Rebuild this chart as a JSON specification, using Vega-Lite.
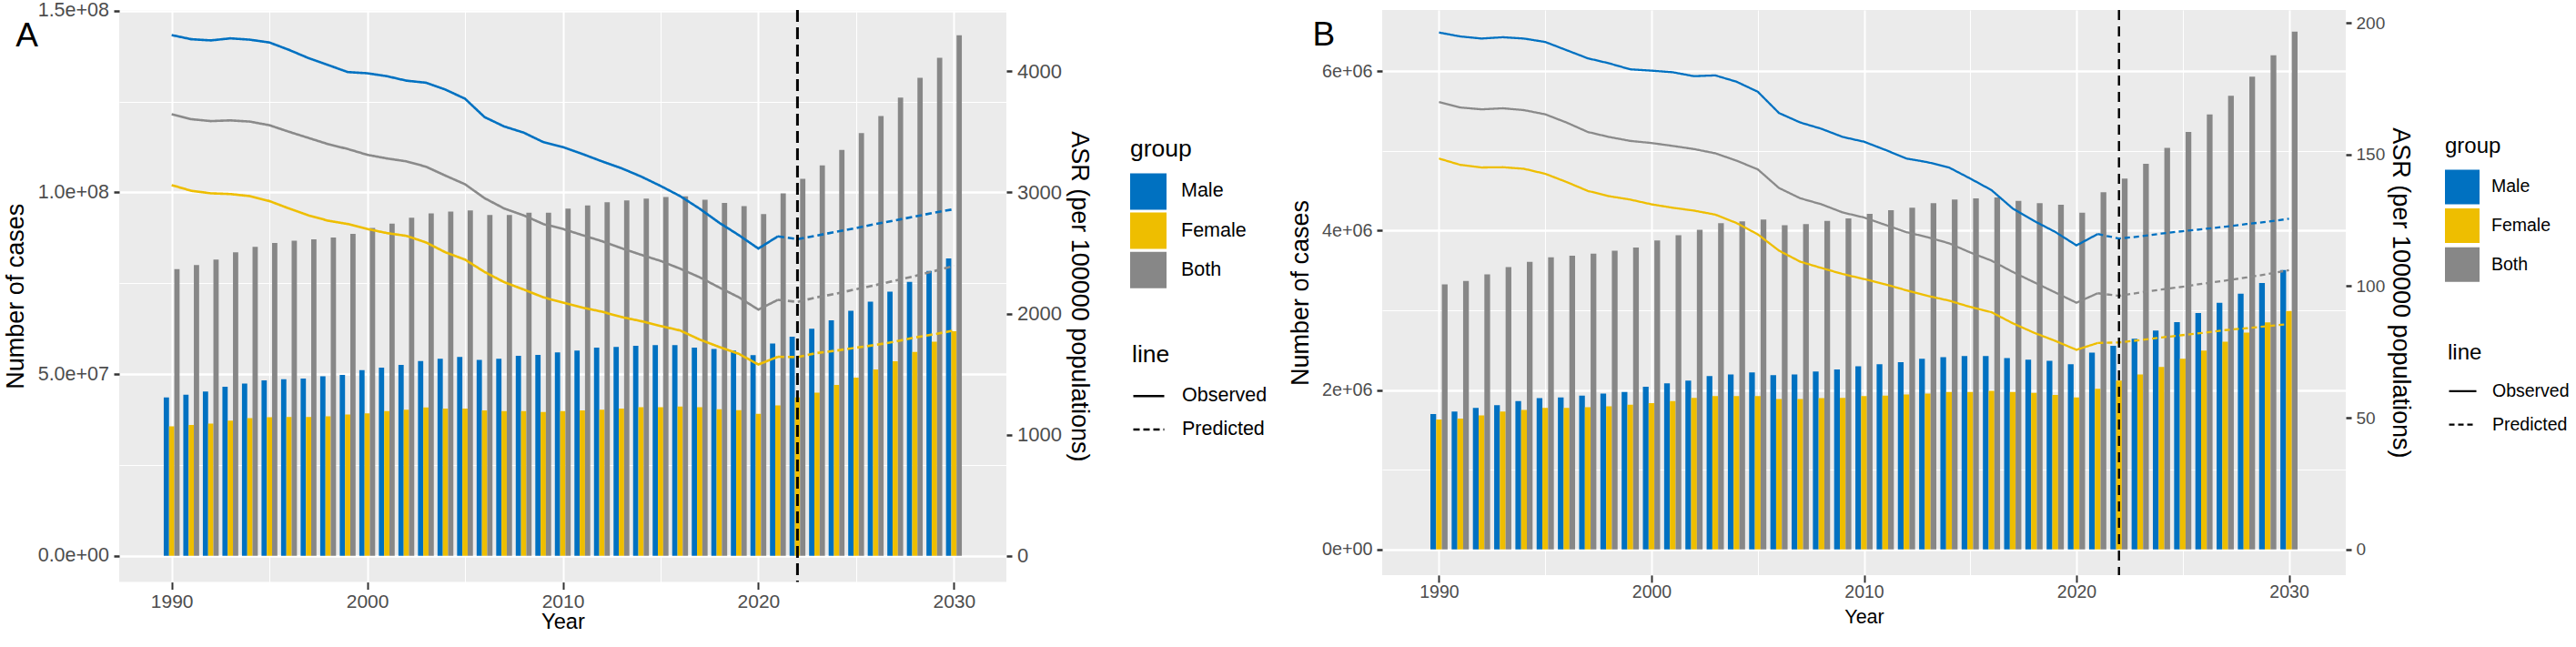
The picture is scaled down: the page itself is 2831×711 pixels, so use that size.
{
"$schema":"https://vega.github.io/schema/vega-lite/v6.json",
"background":"white",
"padding":{"left":3,"top":0,"right":0,"bottom":0},
"datasets":{
"barsA":[
{"year":1990,"group":"Male","cases":4.36e7},{"year":1990,"group":"Female","cases":3.56e7},{"year":1990,"group":"Both","cases":7.89e7},
{"year":1991,"group":"Male","cases":4.43e7},{"year":1991,"group":"Female","cases":3.60e7},{"year":1991,"group":"Both","cases":8.00e7},
{"year":1992,"group":"Male","cases":4.52e7},{"year":1992,"group":"Female","cases":3.64e7},{"year":1992,"group":"Both","cases":8.15e7},
{"year":1993,"group":"Male","cases":4.65e7},{"year":1993,"group":"Female","cases":3.72e7},{"year":1993,"group":"Both","cases":8.35e7},
{"year":1994,"group":"Male","cases":4.74e7},{"year":1994,"group":"Female","cases":3.79e7},{"year":1994,"group":"Both","cases":8.50e7},
{"year":1995,"group":"Male","cases":4.83e7},{"year":1995,"group":"Female","cases":3.81e7},{"year":1995,"group":"Both","cases":8.61e7},
{"year":1996,"group":"Male","cases":4.86e7},{"year":1996,"group":"Female","cases":3.82e7},{"year":1996,"group":"Both","cases":8.67e7},
{"year":1997,"group":"Male","cases":4.88e7},{"year":1997,"group":"Female","cases":3.82e7},{"year":1997,"group":"Both","cases":8.71e7},
{"year":1998,"group":"Male","cases":4.94e7},{"year":1998,"group":"Female","cases":3.84e7},{"year":1998,"group":"Both","cases":8.76e7},
{"year":1999,"group":"Male","cases":4.98e7},{"year":1999,"group":"Female","cases":3.89e7},{"year":1999,"group":"Both","cases":8.86e7},
{"year":2000,"group":"Male","cases":5.11e7},{"year":2000,"group":"Female","cases":3.92e7},{"year":2000,"group":"Both","cases":9.02e7},
{"year":2001,"group":"Male","cases":5.18e7},{"year":2001,"group":"Female","cases":3.98e7},{"year":2001,"group":"Both","cases":9.14e7},
{"year":2002,"group":"Male","cases":5.25e7},{"year":2002,"group":"Female","cases":4.02e7},{"year":2002,"group":"Both","cases":9.30e7},
{"year":2003,"group":"Male","cases":5.36e7},{"year":2003,"group":"Female","cases":4.08e7},{"year":2003,"group":"Both","cases":9.42e7},
{"year":2004,"group":"Male","cases":5.42e7},{"year":2004,"group":"Female","cases":4.05e7},{"year":2004,"group":"Both","cases":9.47e7},
{"year":2005,"group":"Male","cases":5.47e7},{"year":2005,"group":"Female","cases":4.05e7},{"year":2005,"group":"Both","cases":9.50e7},
{"year":2006,"group":"Male","cases":5.39e7},{"year":2006,"group":"Female","cases":4.00e7},{"year":2006,"group":"Both","cases":9.38e7},
{"year":2007,"group":"Male","cases":5.42e7},{"year":2007,"group":"Female","cases":3.98e7},{"year":2007,"group":"Both","cases":9.38e7},
{"year":2008,"group":"Male","cases":5.50e7},{"year":2008,"group":"Female","cases":3.98e7},{"year":2008,"group":"Both","cases":9.44e7},
{"year":2009,"group":"Male","cases":5.53e7},{"year":2009,"group":"Female","cases":3.96e7},{"year":2009,"group":"Both","cases":9.44e7},
{"year":2010,"group":"Male","cases":5.60e7},{"year":2010,"group":"Female","cases":3.98e7},{"year":2010,"group":"Both","cases":9.55e7},
{"year":2011,"group":"Male","cases":5.65e7},{"year":2011,"group":"Female","cases":4.00e7},{"year":2011,"group":"Both","cases":9.64e7},
{"year":2012,"group":"Male","cases":5.73e7},{"year":2012,"group":"Female","cases":4.02e7},{"year":2012,"group":"Both","cases":9.73e7},
{"year":2013,"group":"Male","cases":5.75e7},{"year":2013,"group":"Female","cases":4.05e7},{"year":2013,"group":"Both","cases":9.78e7},
{"year":2014,"group":"Male","cases":5.78e7},{"year":2014,"group":"Female","cases":4.09e7},{"year":2014,"group":"Both","cases":9.83e7},
{"year":2015,"group":"Male","cases":5.80e7},{"year":2015,"group":"Female","cases":4.09e7},{"year":2015,"group":"Both","cases":9.87e7},
{"year":2016,"group":"Male","cases":5.80e7},{"year":2016,"group":"Female","cases":4.11e7},{"year":2016,"group":"Both","cases":9.89e7},
{"year":2017,"group":"Male","cases":5.73e7},{"year":2017,"group":"Female","cases":4.09e7},{"year":2017,"group":"Both","cases":9.80e7},
{"year":2018,"group":"Male","cases":5.69e7},{"year":2018,"group":"Female","cases":4.03e7},{"year":2018,"group":"Both","cases":9.71e7},
{"year":2019,"group":"Male","cases":5.65e7},{"year":2019,"group":"Female","cases":4.01e7},{"year":2019,"group":"Both","cases":9.62e7},
{"year":2020,"group":"Male","cases":5.52e7},{"year":2020,"group":"Female","cases":3.91e7},{"year":2020,"group":"Both","cases":9.40e7},
{"year":2021,"group":"Male","cases":5.84e7},{"year":2021,"group":"Female","cases":4.14e7},{"year":2021,"group":"Both","cases":9.97e7},
{"year":2022,"group":"Male","cases":6.03e7},{"year":2022,"group":"Female","cases":4.36e7},{"year":2022,"group":"Both","cases":1.037e8},
{"year":2023,"group":"Male","cases":6.25e7},{"year":2023,"group":"Female","cases":4.49e7},{"year":2023,"group":"Both","cases":1.074e8},
{"year":2024,"group":"Male","cases":6.48e7},{"year":2024,"group":"Female","cases":4.70e7},{"year":2024,"group":"Both","cases":1.117e8},
{"year":2025,"group":"Male","cases":6.74e7},{"year":2025,"group":"Female","cases":4.90e7},{"year":2025,"group":"Both","cases":1.163e8},
{"year":2026,"group":"Male","cases":6.99e7},{"year":2026,"group":"Female","cases":5.13e7},{"year":2026,"group":"Both","cases":1.210e8},
{"year":2027,"group":"Male","cases":7.27e7},{"year":2027,"group":"Female","cases":5.35e7},{"year":2027,"group":"Both","cases":1.261e8},
{"year":2028,"group":"Male","cases":7.54e7},{"year":2028,"group":"Female","cases":5.61e7},{"year":2028,"group":"Both","cases":1.315e8},
{"year":2029,"group":"Male","cases":7.84e7},{"year":2029,"group":"Female","cases":5.89e7},{"year":2029,"group":"Both","cases":1.370e8},
{"year":2030,"group":"Male","cases":8.18e7},{"year":2030,"group":"Female","cases":6.18e7},{"year":2030,"group":"Both","cases":1.432e8}
],
"barsB":[
{"year":1990,"group":"Male","cases":1.697e6},{"year":1990,"group":"Female","cases":1.630e6},{"year":1990,"group":"Both","cases":3.327e6},
{"year":1991,"group":"Male","cases":1.728e6},{"year":1991,"group":"Female","cases":1.640e6},{"year":1991,"group":"Both","cases":3.368e6},
{"year":1992,"group":"Male","cases":1.774e6},{"year":1992,"group":"Female","cases":1.681e6},{"year":1992,"group":"Both","cases":3.450e6},
{"year":1993,"group":"Male","cases":1.810e6},{"year":1993,"group":"Female","cases":1.728e6},{"year":1993,"group":"Both","cases":3.542e6},
{"year":1994,"group":"Male","cases":1.861e6},{"year":1994,"group":"Female","cases":1.748e6},{"year":1994,"group":"Both","cases":3.609e6},
{"year":1995,"group":"Male","cases":1.897e6},{"year":1995,"group":"Female","cases":1.774e6},{"year":1995,"group":"Both","cases":3.666e6},
{"year":1996,"group":"Male","cases":1.907e6},{"year":1996,"group":"Female","cases":1.774e6},{"year":1996,"group":"Both","cases":3.686e6},
{"year":1997,"group":"Male","cases":1.928e6},{"year":1997,"group":"Female","cases":1.784e6},{"year":1997,"group":"Both","cases":3.712e6},
{"year":1998,"group":"Male","cases":1.954e6},{"year":1998,"group":"Female","cases":1.794e6},{"year":1998,"group":"Both","cases":3.748e6},
{"year":1999,"group":"Male","cases":1.974e6},{"year":1999,"group":"Female","cases":1.815e6},{"year":1999,"group":"Both","cases":3.789e6},
{"year":2000,"group":"Male","cases":2.041e6},{"year":2000,"group":"Female","cases":1.835e6},{"year":2000,"group":"Both","cases":3.877e6},
{"year":2001,"group":"Male","cases":2.082e6},{"year":2001,"group":"Female","cases":1.861e6},{"year":2001,"group":"Both","cases":3.943e6},
{"year":2002,"group":"Male","cases":2.118e6},{"year":2002,"group":"Female","cases":1.902e6},{"year":2002,"group":"Both","cases":4.010e6},
{"year":2003,"group":"Male","cases":2.175e6},{"year":2003,"group":"Female","cases":1.923e6},{"year":2003,"group":"Both","cases":4.093e6},
{"year":2004,"group":"Male","cases":2.195e6},{"year":2004,"group":"Female","cases":1.923e6},{"year":2004,"group":"Both","cases":4.118e6},
{"year":2005,"group":"Male","cases":2.221e6},{"year":2005,"group":"Female","cases":1.923e6},{"year":2005,"group":"Both","cases":4.139e6},
{"year":2006,"group":"Male","cases":2.185e6},{"year":2006,"group":"Female","cases":1.887e6},{"year":2006,"group":"Both","cases":4.067e6},
{"year":2007,"group":"Male","cases":2.195e6},{"year":2007,"group":"Female","cases":1.887e6},{"year":2007,"group":"Both","cases":4.082e6},
{"year":2008,"group":"Male","cases":2.231e6},{"year":2008,"group":"Female","cases":1.897e6},{"year":2008,"group":"Both","cases":4.123e6},
{"year":2009,"group":"Male","cases":2.257e6},{"year":2009,"group":"Female","cases":1.902e6},{"year":2009,"group":"Both","cases":4.154e6},
{"year":2010,"group":"Male","cases":2.298e6},{"year":2010,"group":"Female","cases":1.923e6},{"year":2010,"group":"Both","cases":4.211e6},
{"year":2011,"group":"Male","cases":2.324e6},{"year":2011,"group":"Female","cases":1.928e6},{"year":2011,"group":"Both","cases":4.257e6},
{"year":2012,"group":"Male","cases":2.350e6},{"year":2012,"group":"Female","cases":1.943e6},{"year":2012,"group":"Both","cases":4.288e6},
{"year":2013,"group":"Male","cases":2.391e6},{"year":2013,"group":"Female","cases":1.954e6},{"year":2013,"group":"Both","cases":4.344e6},
{"year":2014,"group":"Male","cases":2.411e6},{"year":2014,"group":"Female","cases":1.974e6},{"year":2014,"group":"Both","cases":4.391e6},
{"year":2015,"group":"Male","cases":2.427e6},{"year":2015,"group":"Female","cases":1.974e6},{"year":2015,"group":"Both","cases":4.406e6},
{"year":2016,"group":"Male","cases":2.427e6},{"year":2016,"group":"Female","cases":1.990e6},{"year":2016,"group":"Both","cases":4.416e6},
{"year":2017,"group":"Male","cases":2.401e6},{"year":2017,"group":"Female","cases":1.974e6},{"year":2017,"group":"Both","cases":4.375e6},
{"year":2018,"group":"Male","cases":2.380e6},{"year":2018,"group":"Female","cases":1.964e6},{"year":2018,"group":"Both","cases":4.344e6},
{"year":2019,"group":"Male","cases":2.365e6},{"year":2019,"group":"Female","cases":1.938e6},{"year":2019,"group":"Both","cases":4.324e6},
{"year":2020,"group":"Male","cases":2.324e6},{"year":2020,"group":"Female","cases":1.907e6},{"year":2020,"group":"Both","cases":4.226e6},
{"year":2021,"group":"Male","cases":2.468e6},{"year":2021,"group":"Female","cases":2.015e6},{"year":2021,"group":"Both","cases":4.483e6},
{"year":2022,"group":"Male","cases":2.555e6},{"year":2022,"group":"Female","cases":2.118e6},{"year":2022,"group":"Both","cases":4.653e6},
{"year":2023,"group":"Male","cases":2.643e6},{"year":2023,"group":"Female","cases":2.195e6},{"year":2023,"group":"Both","cases":4.838e6},
{"year":2024,"group":"Male","cases":2.746e6},{"year":2024,"group":"Female","cases":2.288e6},{"year":2024,"group":"Both","cases":5.039e6},
{"year":2025,"group":"Male","cases":2.853e6},{"year":2025,"group":"Female","cases":2.391e6},{"year":2025,"group":"Both","cases":5.239e6},
{"year":2026,"group":"Male","cases":2.967e6},{"year":2026,"group":"Female","cases":2.494e6},{"year":2026,"group":"Both","cases":5.460e6},
{"year":2027,"group":"Male","cases":3.095e6},{"year":2027,"group":"Female","cases":2.607e6},{"year":2027,"group":"Both","cases":5.692e6},
{"year":2028,"group":"Male","cases":3.208e6},{"year":2028,"group":"Female","cases":2.720e6},{"year":2028,"group":"Both","cases":5.933e6},
{"year":2029,"group":"Male","cases":3.342e6},{"year":2029,"group":"Female","cases":2.848e6},{"year":2029,"group":"Both","cases":6.201e6},
{"year":2030,"group":"Male","cases":3.506e6},{"year":2030,"group":"Female","cases":2.992e6},{"year":2030,"group":"Both","cases":6.499e6}
],
"linesA":[
{"year":1990,"group":"Male","line":"Observed","asr":4298},{"year":1991,"group":"Male","line":"Observed","asr":4264},{"year":1992,"group":"Male","line":"Observed","asr":4254},{"year":1993,"group":"Male","line":"Observed","asr":4271},{"year":1994,"group":"Male","line":"Observed","asr":4260},{"year":1995,"group":"Male","line":"Observed","asr":4237},{"year":1996,"group":"Male","line":"Observed","asr":4176},{"year":1997,"group":"Male","line":"Observed","asr":4108},{"year":1998,"group":"Male","line":"Observed","asr":4051},{"year":1999,"group":"Male","line":"Observed","asr":3993},
{"year":2000,"group":"Male","line":"Observed","asr":3983},{"year":2001,"group":"Male","line":"Observed","asr":3959},{"year":2002,"group":"Male","line":"Observed","asr":3922},{"year":2003,"group":"Male","line":"Observed","asr":3905},{"year":2004,"group":"Male","line":"Observed","asr":3848},{"year":2005,"group":"Male","line":"Observed","asr":3773},{"year":2006,"group":"Male","line":"Observed","asr":3621},{"year":2007,"group":"Male","line":"Observed","asr":3544},{"year":2008,"group":"Male","line":"Observed","asr":3493},{"year":2009,"group":"Male","line":"Observed","asr":3415},
{"year":2010,"group":"Male","line":"Observed","asr":3374},{"year":2011,"group":"Male","line":"Observed","asr":3317},{"year":2012,"group":"Male","line":"Observed","asr":3256},{"year":2013,"group":"Male","line":"Observed","asr":3199},{"year":2014,"group":"Male","line":"Observed","asr":3131},{"year":2015,"group":"Male","line":"Observed","asr":3053},{"year":2016,"group":"Male","line":"Observed","asr":2969},{"year":2017,"group":"Male","line":"Observed","asr":2865},{"year":2018,"group":"Male","line":"Observed","asr":2749},{"year":2019,"group":"Male","line":"Observed","asr":2647},
{"year":2020,"group":"Male","line":"Observed","asr":2536},{"year":2021,"group":"Male","line":"Observed","asr":2637},
{"year":2021,"group":"Male","line":"Predicted","asr":2637},{"year":2022,"group":"Male","line":"Predicted","asr":2614},{"year":2023,"group":"Male","line":"Predicted","asr":2644},{"year":2024,"group":"Male","line":"Predicted","asr":2675},{"year":2025,"group":"Male","line":"Predicted","asr":2705},{"year":2026,"group":"Male","line":"Predicted","asr":2739},{"year":2027,"group":"Male","line":"Predicted","asr":2769},{"year":2028,"group":"Male","line":"Predicted","asr":2800},{"year":2029,"group":"Male","line":"Predicted","asr":2833},{"year":2030,"group":"Male","line":"Predicted","asr":2861},
{"year":1990,"group":"Female","line":"Observed","asr":3060},{"year":1991,"group":"Female","line":"Observed","asr":3013},{"year":1992,"group":"Female","line":"Observed","asr":2992},{"year":1993,"group":"Female","line":"Observed","asr":2986},{"year":1994,"group":"Female","line":"Observed","asr":2969},{"year":1995,"group":"Female","line":"Observed","asr":2928},{"year":1996,"group":"Female","line":"Observed","asr":2867},{"year":1997,"group":"Female","line":"Observed","asr":2810},{"year":1998,"group":"Female","line":"Observed","asr":2766},{"year":1999,"group":"Female","line":"Observed","asr":2739},
{"year":2000,"group":"Female","line":"Observed","asr":2698},{"year":2001,"group":"Female","line":"Observed","asr":2664},{"year":2002,"group":"Female","line":"Observed","asr":2641},{"year":2003,"group":"Female","line":"Observed","asr":2587},{"year":2004,"group":"Female","line":"Observed","asr":2505},{"year":2005,"group":"Female","line":"Observed","asr":2445},{"year":2006,"group":"Female","line":"Observed","asr":2343},{"year":2007,"group":"Female","line":"Observed","asr":2259},{"year":2008,"group":"Female","line":"Observed","asr":2198},{"year":2009,"group":"Female","line":"Observed","asr":2134},
{"year":2010,"group":"Female","line":"Observed","asr":2090},{"year":2011,"group":"Female","line":"Observed","asr":2049},{"year":2012,"group":"Female","line":"Observed","asr":2015},{"year":2013,"group":"Female","line":"Observed","asr":1971},{"year":2014,"group":"Female","line":"Observed","asr":1937},{"year":2015,"group":"Female","line":"Observed","asr":1897},{"year":2016,"group":"Female","line":"Observed","asr":1860},{"year":2017,"group":"Female","line":"Observed","asr":1785},{"year":2018,"group":"Female","line":"Observed","asr":1724},{"year":2019,"group":"Female","line":"Observed","asr":1667},
{"year":2020,"group":"Female","line":"Observed","asr":1579},{"year":2021,"group":"Female","line":"Observed","asr":1643},
{"year":2021,"group":"Female","line":"Predicted","asr":1643},{"year":2022,"group":"Female","line":"Predicted","asr":1640},{"year":2023,"group":"Female","line":"Predicted","asr":1674},{"year":2024,"group":"Female","line":"Predicted","asr":1694},{"year":2025,"group":"Female","line":"Predicted","asr":1718},{"year":2026,"group":"Female","line":"Predicted","asr":1741},{"year":2027,"group":"Female","line":"Predicted","asr":1768},{"year":2028,"group":"Female","line":"Predicted","asr":1802},{"year":2029,"group":"Female","line":"Predicted","asr":1829},{"year":2030,"group":"Female","line":"Predicted","asr":1860},
{"year":1990,"group":"Both","line":"Observed","asr":3645},{"year":1991,"group":"Both","line":"Observed","asr":3604},{"year":1992,"group":"Both","line":"Observed","asr":3588},{"year":1993,"group":"Both","line":"Observed","asr":3594},{"year":1994,"group":"Both","line":"Observed","asr":3584},{"year":1995,"group":"Both","line":"Observed","asr":3554},{"year":1996,"group":"Both","line":"Observed","asr":3500},{"year":1997,"group":"Both","line":"Observed","asr":3449},{"year":1998,"group":"Both","line":"Observed","asr":3398},{"year":1999,"group":"Both","line":"Observed","asr":3358},
{"year":2000,"group":"Both","line":"Observed","asr":3310},{"year":2001,"group":"Both","line":"Observed","asr":3280},{"year":2002,"group":"Both","line":"Observed","asr":3256},{"year":2003,"group":"Both","line":"Observed","asr":3212},{"year":2004,"group":"Both","line":"Observed","asr":3138},{"year":2005,"group":"Both","line":"Observed","asr":3067},{"year":2006,"group":"Both","line":"Observed","asr":2952},{"year":2007,"group":"Both","line":"Observed","asr":2867},{"year":2008,"group":"Both","line":"Observed","asr":2810},{"year":2009,"group":"Both","line":"Observed","asr":2739},
{"year":2010,"group":"Both","line":"Observed","asr":2698},{"year":2011,"group":"Both","line":"Observed","asr":2647},{"year":2012,"group":"Both","line":"Observed","asr":2597},{"year":2013,"group":"Both","line":"Observed","asr":2539},{"year":2014,"group":"Both","line":"Observed","asr":2485},{"year":2015,"group":"Both","line":"Observed","asr":2434},{"year":2016,"group":"Both","line":"Observed","asr":2370},{"year":2017,"group":"Both","line":"Observed","asr":2299},{"year":2018,"group":"Both","line":"Observed","asr":2215},{"year":2019,"group":"Both","line":"Observed","asr":2134},
{"year":2020,"group":"Both","line":"Observed","asr":2032},{"year":2021,"group":"Both","line":"Observed","asr":2113},
{"year":2021,"group":"Both","line":"Predicted","asr":2113},{"year":2022,"group":"Both","line":"Predicted","asr":2096},{"year":2023,"group":"Both","line":"Predicted","asr":2134},{"year":2024,"group":"Both","line":"Predicted","asr":2164},{"year":2025,"group":"Both","line":"Predicted","asr":2201},{"year":2026,"group":"Both","line":"Predicted","asr":2235},{"year":2027,"group":"Both","line":"Predicted","asr":2272},{"year":2028,"group":"Both","line":"Predicted","asr":2309},{"year":2029,"group":"Both","line":"Predicted","asr":2350},{"year":2030,"group":"Both","line":"Predicted","asr":2394}
],
"linesB":[
{"year":1990,"group":"Male","line":"Observed","asr":196.4},{"year":1991,"group":"Male","line":"Observed","asr":194.9},{"year":1992,"group":"Male","line":"Observed","asr":194.1},{"year":1993,"group":"Male","line":"Observed","asr":194.6},{"year":1994,"group":"Male","line":"Observed","asr":194.1},{"year":1995,"group":"Male","line":"Observed","asr":192.8},{"year":1996,"group":"Male","line":"Observed","asr":189.7},{"year":1997,"group":"Male","line":"Observed","asr":186.6},{"year":1998,"group":"Male","line":"Observed","asr":184.7},{"year":1999,"group":"Male","line":"Observed","asr":182.4},
{"year":2000,"group":"Male","line":"Observed","asr":181.9},{"year":2001,"group":"Male","line":"Observed","asr":181.3},{"year":2002,"group":"Male","line":"Observed","asr":179.8},{"year":2003,"group":"Male","line":"Observed","asr":180.1},{"year":2004,"group":"Male","line":"Observed","asr":177.7},{"year":2005,"group":"Male","line":"Observed","asr":173.9},{"year":2006,"group":"Male","line":"Observed","asr":165.8},{"year":2007,"group":"Male","line":"Observed","asr":162.2},{"year":2008,"group":"Male","line":"Observed","asr":159.8},{"year":2009,"group":"Male","line":"Observed","asr":156.7},
{"year":2010,"group":"Male","line":"Observed","asr":154.9},{"year":2011,"group":"Male","line":"Observed","asr":151.8},{"year":2012,"group":"Male","line":"Observed","asr":148.5},{"year":2013,"group":"Male","line":"Observed","asr":147.1},{"year":2014,"group":"Male","line":"Observed","asr":145.1},{"year":2015,"group":"Male","line":"Observed","asr":140.9},{"year":2016,"group":"Male","line":"Observed","asr":136.5},{"year":2017,"group":"Male","line":"Observed","asr":129.5},{"year":2018,"group":"Male","line":"Observed","asr":124.8},{"year":2019,"group":"Male","line":"Observed","asr":120.6},
{"year":2020,"group":"Male","line":"Observed","asr":115.5},{"year":2021,"group":"Male","line":"Observed","asr":119.8},
{"year":2021,"group":"Male","line":"Predicted","asr":119.8},{"year":2022,"group":"Male","line":"Predicted","asr":118.1},{"year":2023,"group":"Male","line":"Predicted","asr":118.9},{"year":2024,"group":"Male","line":"Predicted","asr":120.0},{"year":2025,"group":"Male","line":"Predicted","asr":120.9},{"year":2026,"group":"Male","line":"Predicted","asr":121.7},{"year":2027,"group":"Male","line":"Predicted","asr":122.6},{"year":2028,"group":"Male","line":"Predicted","asr":123.6},{"year":2029,"group":"Male","line":"Predicted","asr":124.5},{"year":2030,"group":"Male","line":"Predicted","asr":125.6},
{"year":1990,"group":"Female","line":"Observed","asr":148.5},{"year":1991,"group":"Female","line":"Observed","asr":146.1},{"year":1992,"group":"Female","line":"Observed","asr":145.1},{"year":1993,"group":"Female","line":"Observed","asr":145.2},{"year":1994,"group":"Female","line":"Observed","asr":144.6},{"year":1995,"group":"Female","line":"Observed","asr":142.7},{"year":1996,"group":"Female","line":"Observed","asr":139.6},{"year":1997,"group":"Female","line":"Observed","asr":136.2},{"year":1998,"group":"Female","line":"Observed","asr":134.2},{"year":1999,"group":"Female","line":"Observed","asr":132.9},
{"year":2000,"group":"Female","line":"Observed","asr":131.1},{"year":2001,"group":"Female","line":"Observed","asr":129.8},{"year":2002,"group":"Female","line":"Observed","asr":128.7},{"year":2003,"group":"Female","line":"Observed","asr":127.2},{"year":2004,"group":"Female","line":"Observed","asr":124.0},{"year":2005,"group":"Female","line":"Observed","asr":119.7},{"year":2006,"group":"Female","line":"Observed","asr":113.5},{"year":2007,"group":"Female","line":"Observed","asr":109.3},{"year":2008,"group":"Female","line":"Observed","asr":106.9},{"year":2009,"group":"Female","line":"Observed","asr":104.6},
{"year":2010,"group":"Female","line":"Observed","asr":102.7},{"year":2011,"group":"Female","line":"Observed","asr":100.7},{"year":2012,"group":"Female","line":"Observed","asr":98.4},{"year":2013,"group":"Female","line":"Observed","asr":96.3},{"year":2014,"group":"Female","line":"Observed","asr":94.5},{"year":2015,"group":"Female","line":"Observed","asr":92.1},{"year":2016,"group":"Female","line":"Observed","asr":90.1},{"year":2017,"group":"Female","line":"Observed","asr":85.9},{"year":2018,"group":"Female","line":"Observed","asr":82.3},{"year":2019,"group":"Female","line":"Observed","asr":79.2},
{"year":2020,"group":"Female","line":"Observed","asr":75.8},{"year":2021,"group":"Female","line":"Observed","asr":78.4},
{"year":2021,"group":"Female","line":"Predicted","asr":78.4},{"year":2022,"group":"Female","line":"Predicted","asr":78.6},{"year":2023,"group":"Female","line":"Predicted","asr":79.5},{"year":2024,"group":"Female","line":"Predicted","asr":80.5},{"year":2025,"group":"Female","line":"Predicted","asr":81.4},{"year":2026,"group":"Female","line":"Predicted","asr":82.3},{"year":2027,"group":"Female","line":"Predicted","asr":83.3},{"year":2028,"group":"Female","line":"Predicted","asr":84.0},{"year":2029,"group":"Female","line":"Predicted","asr":84.8},{"year":2030,"group":"Female","line":"Predicted","asr":85.6},
{"year":1990,"group":"Both","line":"Observed","asr":170.0},{"year":1991,"group":"Both","line":"Observed","asr":167.9},{"year":1992,"group":"Both","line":"Observed","asr":167.2},{"year":1993,"group":"Both","line":"Observed","asr":167.6},{"year":1994,"group":"Both","line":"Observed","asr":166.9},{"year":1995,"group":"Both","line":"Observed","asr":165.3},{"year":1996,"group":"Both","line":"Observed","asr":162.2},{"year":1997,"group":"Both","line":"Observed","asr":158.6},{"year":1998,"group":"Both","line":"Observed","asr":156.7},{"year":1999,"group":"Both","line":"Observed","asr":155.2},
{"year":2000,"group":"Both","line":"Observed","asr":154.4},{"year":2001,"group":"Both","line":"Observed","asr":153.3},{"year":2002,"group":"Both","line":"Observed","asr":152.1},{"year":2003,"group":"Both","line":"Observed","asr":150.5},{"year":2004,"group":"Both","line":"Observed","asr":147.7},{"year":2005,"group":"Both","line":"Observed","asr":144.4},{"year":2006,"group":"Both","line":"Observed","asr":137.3},{"year":2007,"group":"Both","line":"Observed","asr":133.4},{"year":2008,"group":"Both","line":"Observed","asr":131.1},{"year":2009,"group":"Both","line":"Observed","asr":128.0},
{"year":2010,"group":"Both","line":"Observed","asr":126.1},{"year":2011,"group":"Both","line":"Observed","asr":123.3},{"year":2012,"group":"Both","line":"Observed","asr":120.5},{"year":2013,"group":"Both","line":"Observed","asr":118.6},{"year":2014,"group":"Both","line":"Observed","asr":116.3},{"year":2015,"group":"Both","line":"Observed","asr":112.8},{"year":2016,"group":"Both","line":"Observed","asr":109.7},{"year":2017,"group":"Both","line":"Observed","asr":105.4},{"year":2018,"group":"Both","line":"Observed","asr":101.5},{"year":2019,"group":"Both","line":"Observed","asr":97.6},
{"year":2020,"group":"Both","line":"Observed","asr":93.7},{"year":2021,"group":"Both","line":"Observed","asr":97.3},
{"year":2021,"group":"Both","line":"Predicted","asr":97.3},{"year":2022,"group":"Both","line":"Predicted","asr":96.3},{"year":2023,"group":"Both","line":"Predicted","asr":97.6},{"year":2024,"group":"Both","line":"Predicted","asr":98.7},{"year":2025,"group":"Both","line":"Predicted","asr":99.8},{"year":2026,"group":"Both","line":"Predicted","asr":101.0},{"year":2027,"group":"Both","line":"Predicted","asr":102.1},{"year":2028,"group":"Both","line":"Predicted","asr":103.3},{"year":2029,"group":"Both","line":"Predicted","asr":104.6},{"year":2030,"group":"Both","line":"Predicted","asr":106.1}
]
},
"hconcat":[
{
"width":975,"height":628.6,
"title":{"text":"A","anchor":"start","frame":"bounds","orient":"top","offset":-58.4,"dx":14,"fontSize":37,"fontWeight":"normal","color":"black","font":"Liberation Sans"},
"layer":[
{
"data":{"name":"barsA"},
"encoding":{
"x":{"field":"year","type":"quantitative","scale":{"domain":[1987.55,2032.45],"nice":false,"zero":false},
"axis":{"values":[1990,1995,2000,2005,2010,2015,2020,2025,2030],"format":"d","labelExpr":"datum.value % 10 === 0 ? datum.label : ''","title":"Year","grid":true,"gridWidth":{"condition":{"test":"datum.value % 10 !== 0","value":1},"value":2},"tickOpacity":{"condition":{"test":"datum.value % 10 !== 0","value":0},"value":1},"tickSize":8,"labelFontSize":21,"labelPadding":3,"titlePadding":0,"titleFontSize":23.7}},
"y":{"field":"cases","type":"quantitative","scale":{"domain":[-7.21e6,1.5017e8],"nice":false,"zero":false},
"axis":{"values":[0,2.5e7,5e7,7.5e7,1e8,1.25e8,1.5e8],"labelExpr":"datum.value % 5e7 === 0 ? replace(format(datum.value,'.1e'),'e+','e+0') : ''","title":"Number of cases","grid":true,"gridWidth":{"condition":{"test":"datum.value % 5e7 !== 0","value":1},"value":2.5},"tickOpacity":{"condition":{"test":"datum.value % 5e7 !== 0","value":0},"value":1},"tickSize":6,"tickWidth":2.5,"labelFontSize":21.5,"labelPadding":5.5,"titlePadding":10,"titleFontSize":27}},
"y2":{"datum":0},
"color":{"field":"group","type":"nominal","scale":{"domain":["Male","Female","Both"],"range":["#0071C1","#EEBE00","#878787"]},
"legend":{"title":"group","orient":"none","legendX":1111,"legendY":139.9,"symbolType":"square","symbolSize":1600,"symbolStrokeWidth":0,"symbolOpacity":1,"labelOffset":16,"rowPadding":3.2,"titlePadding":13,"titleFontSize":26.5,"labelFontSize":21.5}}
},
"layer":[
{"transform":[{"filter":"datum.group === 'Male'"}],"mark":{"type":"bar","width":5.8,"xOffset":-5.8}},
{"transform":[{"filter":"datum.group === 'Female'"}],"mark":{"type":"bar","width":5.8}},
{"transform":[{"filter":"datum.group === 'Both'"}],"mark":{"type":"bar","width":5.8,"xOffset":5.8}}
]
},
{
"data":{"name":"linesA"},
"mark":{"type":"line","strokeWidth":2.6},
"encoding":{
"x":{"field":"year","type":"quantitative"},
"y":{"field":"asr","type":"quantitative","scale":{"domain":[-216.3,4505],"nice":false,"zero":false},
"axis":{"orient":"right","values":[0,1000,2000,3000,4000],"format":"d","grid":false,"title":"ASR (per 100000 populations)","tickSize":6,"tickWidth":2.5,"labelFontSize":22,"labelPadding":5.5,"titlePadding":5,"titleFontSize":27}},
"stroke":{"field":"group","type":"nominal","scale":{"domain":["Male","Female","Both"],"range":["#0071C1","#EEBE00","#8A8A8A"]},"legend":null},
"strokeDash":{"field":"line","type":"nominal","scale":{"domain":["Observed","Predicted"],"range":[[1,0],[7,4]]},
"legend":{"title":"line","orient":"none","legendX":1113,"legendY":366.3,"symbolType":"stroke","symbolSize":1156,"symbolStrokeWidth":2.5,"symbolStrokeColor":"black","labelOffset":18,"rowPadding":7.6,"titlePadding":13,"titleFontSize":26.5,"labelFontSize":21.5}}
}
},
{
"data":{"values":[{}]},
"mark":{"type":"rule","strokeDash":[13,6],"strokeWidth":3,"color":"black"},
"encoding":{"x":{"datum":2022,"type":"quantitative"}}
}
],
"resolve":{"scale":{"y":"independent"}}
},
{
"width":1059,"height":620.9,
"title":{"text":"B","anchor":"start","frame":"bounds","orient":"top","offset":-47.9,"dx":27,"fontSize":37,"fontWeight":"normal","color":"black","font":"Liberation Sans"},
"layer":[
{
"data":{"name":"barsB"},
"encoding":{
"x":{"field":"year","type":"quantitative","scale":{"domain":[1987.54,2032.46],"nice":false,"zero":false},
"axis":{"values":[1990,1995,2000,2005,2010,2015,2020,2025,2030],"format":"d","labelExpr":"datum.value % 10 === 0 ? datum.label : ''","title":"Year","grid":true,"gridWidth":{"condition":{"test":"datum.value % 10 !== 0","value":1},"value":2},"tickOpacity":{"condition":{"test":"datum.value % 10 !== 0","value":0},"value":1},"tickSize":8,"labelFontSize":19.5,"labelPadding":1.5,"titlePadding":8,"titleFontSize":21.5}},
"y":{"field":"cases","type":"quantitative","scale":{"domain":[-3.23e5,6.77e6],"nice":false,"zero":false},
"axis":{"values":[0,1e6,2e6,3e6,4e6,5e6,6e6],"labelExpr":"datum.value % 2e6 === 0 ? replace(format(datum.value,'.0e'),'e+','e+0') : ''","title":"Number of cases","grid":true,"gridWidth":{"condition":{"test":"datum.value % 2e6 !== 0","value":1},"value":2.5},"tickOpacity":{"condition":{"test":"datum.value % 2e6 !== 0","value":0},"value":1},"tickSize":6,"tickWidth":2.5,"labelFontSize":19.8,"labelPadding":5,"titlePadding":9,"titleFontSize":27}},
"y2":{"datum":0},
"color":{"field":"group","type":"nominal","scale":{"domain":["Male","Female","Both"],"range":["#0071C1","#EEBE00","#878787"]},
"legend":{"title":"group","orient":"none","legendX":1168,"legendY":138.4,"symbolType":"square","symbolSize":1444,"symbolStrokeWidth":0,"symbolOpacity":1,"labelOffset":13,"rowPadding":4.7,"titlePadding":13,"titleFontSize":24,"labelFontSize":19.5}}
},
"layer":[
{"transform":[{"filter":"datum.group === 'Male'"}],"mark":{"type":"bar","width":6.3,"xOffset":-6.3}},
{"transform":[{"filter":"datum.group === 'Female'"}],"mark":{"type":"bar","width":6.3}},
{"transform":[{"filter":"datum.group === 'Both'"}],"mark":{"type":"bar","width":6.3,"xOffset":6.3}}
]
},
{
"data":{"name":"linesB"},
"mark":{"type":"line","strokeWidth":2.3},
"encoding":{
"x":{"field":"year","type":"quantitative"},
"y":{"field":"asr","type":"quantitative","scale":{"domain":[-9.79,204.95],"nice":false,"zero":false},
"axis":{"orient":"right","values":[0,50,100,150,200],"format":"d","grid":false,"title":"ASR (per 100000 populations)","tickSize":6,"tickWidth":2.5,"labelFontSize":19,"labelPadding":5,"titlePadding":3,"titleFontSize":27}},
"stroke":{"field":"group","type":"nominal","scale":{"domain":["Male","Female","Both"],"range":["#0071C1","#EEBE00","#8A8A8A"]},"legend":null},
"strokeDash":{"field":"line","type":"nominal","scale":{"domain":["Observed","Predicted"],"range":[[1,0],[6,4]]},
"legend":{"title":"line","orient":"none","legendX":1171,"legendY":365.4,"symbolType":"stroke","symbolSize":900,"symbolStrokeWidth":2.3,"symbolStrokeColor":"black","labelOffset":16,"rowPadding":10.8,"titlePadding":13,"titleFontSize":24,"labelFontSize":19.5}}
}
},
{
"data":{"values":[{}]},
"mark":{"type":"rule","strokeDash":[11,7],"strokeWidth":2.4,"color":"black"},
"encoding":{"x":{"datum":2022,"type":"quantitative"}}
}
],
"resolve":{"scale":{"y":"independent"}}
}
],
"spacing":413,
"bounds":"flush",
"resolve":{"scale":{"color":"independent","stroke":"independent","strokeDash":"independent"}},
"config":{
"font":"Liberation Sans",
"view":{"fill":"#EBEBEB","stroke":null},
"axis":{"domain":false,"tickColor":"#333333","tickWidth":2,"labelColor":"#4D4D4D","titleColor":"black","titleFontWeight":"normal","gridColor":"white","labelFont":"Liberation Sans","titleFont":"Liberation Sans","labelFlush":false,"labelOverlap":false},
"legend":{"titleFontWeight":"normal","titleColor":"black","labelColor":"black","padding":0,"titleFont":"Liberation Sans","labelFont":"Liberation Sans"},
"line":{"strokeCap":"butt"}
}
}
